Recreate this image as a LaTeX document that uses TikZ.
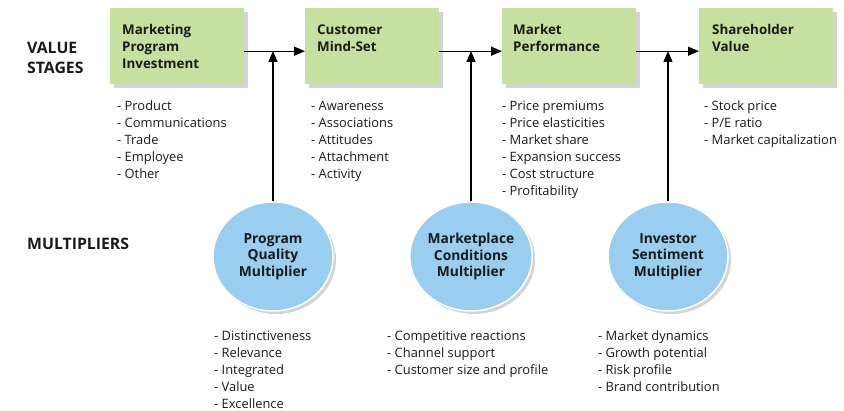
\documentclass[tikz,border=0pt]{standalone}
\usepackage{fontspec}
\setmainfont{Open Sans}
\usetikzlibrary{arrows.meta,shapes.geometric,shadows}
\definecolor{boxgreen}{HTML}{C6E0A0}
\definecolor{circblue}{HTML}{99CEF0}
\definecolor{txt}{HTML}{1A1A1A}
\definecolor{shade}{HTML}{D4D4D4}
\newcommand{\headfont}{\fontsize{13.4}{17}\selectfont\bfseries}
\newcommand{\circfont}{\fontsize{13.8}{16.5}\selectfont\bfseries}
\newcommand{\listfont}{\fontsize{12.9}{17}\selectfont}
\begin{document}
\begin{tikzpicture}[x=1pt,y=-1pt,
  stagebox/.style={rectangle, fill=boxgreen, minimum width=134pt, minimum height=76pt,
    inner sep=0pt, anchor=north west,
    general shadow={fill=shade, shadow xshift=4pt, shadow yshift=-4pt}},
  multcirc/.style={ellipse, fill=circblue, draw=white, line width=1.5pt,
    minimum width=120pt, minimum height=109pt, inner sep=0pt, align=center,
    text=txt, font=\circfont,
    general shadow={fill=shade, shadow xshift=3pt, shadow yshift=-3pt}},
  boxtext/.style={anchor=north west, inner sep=0pt, align=left, text=txt, font=\headfont},
  listtext/.style={anchor=north west, inner sep=0pt, align=left, text=txt, font=\listfont},
  rowlabel/.style={anchor=north west, inner sep=0pt, align=left, text=txt,
    font=\fontsize{15.8}{20}\selectfont\bfseries},
  arr/.style={line width=1.3pt, -{Triangle[length=11pt,width=9pt]}}
]
\useasboundingbox (0,0) rectangle (844,411);

% row labels
\node[rowlabel] (lv) at (27,39) {\strut VALUE\\STAGES};
\node[rowlabel] (lm) at (27,235) {\strut MULTIPLIERS};

% value stage boxes
\node[stagebox] (b1) at (110,8) {};
\node[stagebox] (b2) at (305,8) {};
\node[stagebox] (b3) at (502,8) {};
\node[stagebox] (b4) at (699,8) {};

\node[boxtext] (h1) at (122,22.1) {\strut Marketing\\Program\\Investment};
\node[boxtext] (h2) at (317,22.1) {\strut Customer\\Mind-Set};
\node[boxtext] (h3) at (513,22.1) {\strut Market\\Performance};
\node[boxtext] (h4) at (712,22.1) {\strut Shareholder\\Value};

% stage lists
\node[listtext] (l1) at (117,98.6) {\strut - Product\\- Communications\\- Trade\\- Employee\\- Other};
\node[listtext] (l2) at (311,98.6) {\strut - Awareness\\- Associations\\- Attitudes\\- Attachment\\- Activity};
\node[listtext] (l3) at (502,98.6) {\strut - Price premiums\\- Price elasticities\\- Market share\\- Expansion success\\- Cost structure\\- Profitability};
\node[listtext] (l4) at (704,98.6) {\strut - Stock price\\- P/E ratio\\- Market capitalization};

% multipliers
\node[multcirc] (c1) at (273,256.5) {Program\\Quality\\Multiplier};
\node[multcirc] (c2) at (471,256.5) {Marketplace\\Conditions\\Multiplier};
\node[multcirc] (c3) at (668,256.5) {Investor\\Sentiment\\Multiplier};

% multiplier lists
\node[listtext] (m1) at (214,328.1) {\strut - Distinctiveness\\- Relevance\\- Integrated\\- Value\\- Excellence};
\node[listtext] (m2) at (387,328.1) {\strut - Competitive reactions\\- Channel support\\- Customer size and profile};
\node[listtext] (m3) at (598,328.1) {\strut - Market dynamics\\- Growth potential\\- Risk profile\\- Brand contribution};

% junctions on the stage line
\coordinate (j1) at (273,51);
\coordinate (j2) at (471,51);
\coordinate (j3) at (668,51);

% horizontal arrows
\draw[arr] ([yshift=-5pt]b1.east) -- ([yshift=-5pt]b2.west);
\draw[arr] ([yshift=-5pt]b2.east) -- ([yshift=-5pt]b3.west);
\draw[arr] ([yshift=-5pt]b3.east) -- ([yshift=-5pt]b4.west);

% vertical arrows
\draw[arr] (c1.north) -- (j1);
\draw[arr] (c2.north) -- (j2);
\draw[arr] (c3.north) -- (j3);
\end{tikzpicture}
\end{document}
